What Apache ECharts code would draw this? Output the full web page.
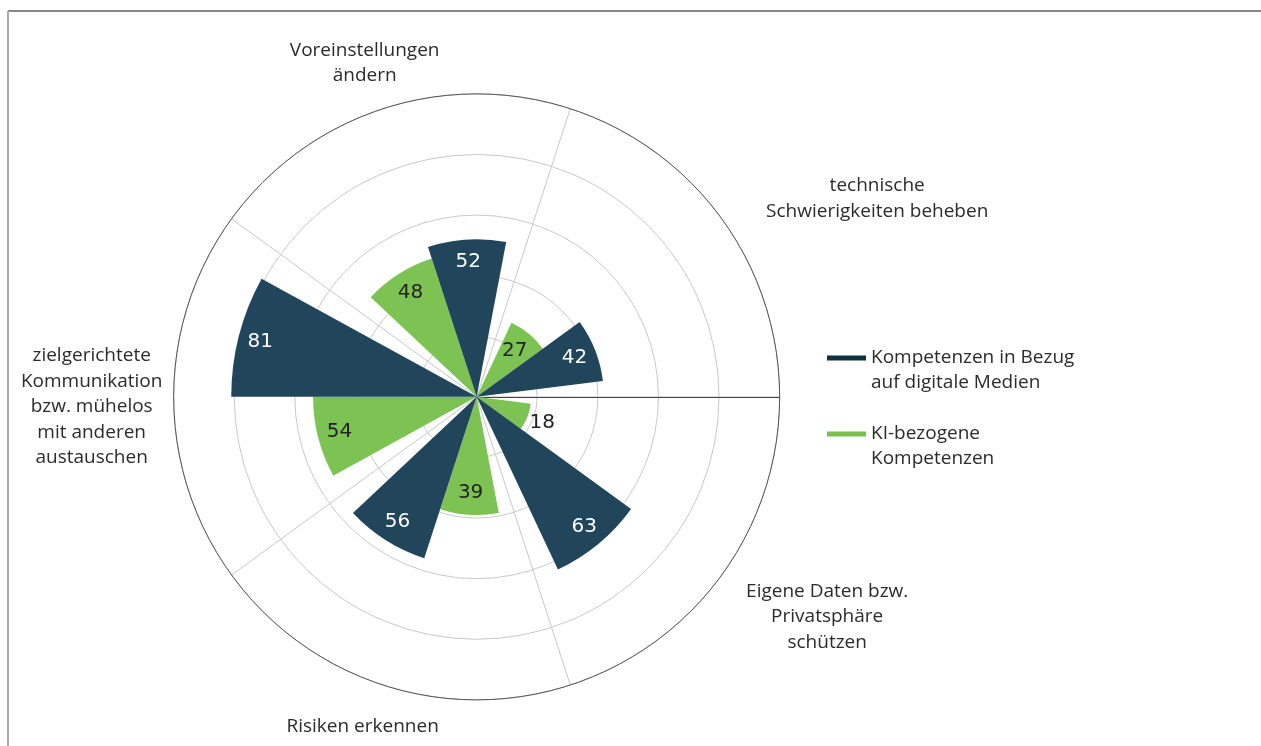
<!DOCTYPE html>
<html>
<head>
<meta charset="utf-8">
<script src="https://cdn.jsdelivr.net/npm/echarts@6/dist/echarts.min.js"></script>
<style>
  html, body { margin: 0; padding: 0; background: #fff; }
  #chart { width: 1261px; height: 746px; }
</style>
</head>
<body>
<div id="chart"></div>
<script>
// data
const categories = [
  'technische\nSchwierigkeiten beheben',
  'Voreinstellungen\nändern',
  'zielgerichtete\nKommunikation\nbzw. mühelos\nmit anderen\naustauschen',
  'Risiken erkennen',
  'Eigene Daten bzw.\nPrivatsphäre\nschützen'
]
const seriesNames = ['Kompetenzen in Bezug\nauf digitale Medien', 'KI-bezogene\nKompetenzen']
const digitalValues = [42, 52, 81, 56, 63]
const kiValues = [27, 48, 54, 39, 18]
const radiusMin = 0
const radiusMax = 100
const radiusStep = 20

const darkColor = '#21455a'
const greenColor = '#7dc353'
const textColor = '#2b2b2b'
const font = 'Open Sans'

// per category label box: token width + padding [top, right, bottom, left]
const labelBoxes = [
  { width: 240, padding: [0, 0, 8, 54] },
  { width: 160, padding: [0, 51, 42, 0] },
  { width: 150, padding: [20, 30, 0, 0] },
  { width: 160, padding: [51, 55, 0, 0] },
  { width: 180, padding: [17, 0, 0, 34] }
]

function richFor(w) {
  return {
    c: { width: w, align: 'center', fontFamily: font, fontSize: 19, lineHeight: 25.5, color: textColor }
  }
}

function barLabel(color) {
  return {
    show: true,
    position: 'insideEnd',
    distance: 22,
    rotate: 0,
    align: 'center',
    verticalAlign: 'middle',
    color: color,
    fontFamily: 'DejaVu Sans',
    fontSize: 20
  }
}

const chart = echarts.init(document.getElementById('chart'))

chart.setOption({
  animation: false,
  graphic: [
    { type: 'line', shape: { x1: 8, y1: 11, x2: 1261, y2: 11 }, style: { stroke: '#888', lineWidth: 2 } },
    { type: 'line', shape: { x1: 8, y1: 11, x2: 8, y2: 746 }, style: { stroke: '#aaa', lineWidth: 2 } }
  ],
  legend: {
    orient: 'vertical',
    left: 827,
    top: 320.5,
    padding: 0,
    itemGap: 1,
    itemWidth: 39,
    itemHeight: 5,
    icon: 'rect',
    // blank first line puts the icon level with the first text line
    formatter: name => '\n' + name,
    textStyle: {
      fontFamily: font,
      fontSize: 19,
      lineHeight: 25,
      color: textColor
    },
    data: [
      { name: seriesNames[0], itemStyle: { color: '#10303f' } },
      { name: seriesNames[1], itemStyle: { color: '#78c04f' } }
    ]
  },
  polar: {
    center: ['37.8%', '53.2%'],
    radius: 303
  },
  angleAxis: {
    type: 'category',
    data: categories.map((c, i) => ({
      value: c,
      textStyle: {
        padding: labelBoxes[i].padding,
        rich: richFor(labelBoxes[i].width)
      }
    })),
    startAngle: 0,
    clockwise: false,
    axisLine: { lineStyle: { color: '#555', width: 1 } },
    axisTick: { show: false },
    axisLabel: {
      margin: -23,
      fontFamily: font,
      fontSize: 19,
      color: textColor,
      formatter: v => v.split('\n').map(l => '{c|' + l + '}').join('\n')
    },
    splitLine: { show: true, lineStyle: { color: '#c8c8c8', width: 1 } }
  },
  radiusAxis: {
    min: radiusMin,
    max: radiusMax,
    interval: radiusStep,
    axisLine: { show: true, lineStyle: { color: '#444', width: 1 } },
    axisTick: { show: false },
    axisLabel: { show: false },
    splitLine: { show: true, lineStyle: { color: '#c8c8c8', width: 1 } }
  },
  series: [
    {
      name: seriesNames[1],
      type: 'bar',
      coordinateSystem: 'polar',
      // small value: label sits just outside the bar
      data: kiValues.map(v => v < 20 ? { value: v, label: { distance: -16 } } : v),
      barCategoryGap: '20%',
      barGap: '0%',
      itemStyle: { color: greenColor },
      label: barLabel('#222')
    },
    {
      name: seriesNames[0],
      type: 'bar',
      coordinateSystem: 'polar',
      data: digitalValues,
      barCategoryGap: '20%',
      barGap: '0%',
      itemStyle: { color: darkColor },
      label: barLabel('#fff')
    }
  ]
})
</script>
</body>
</html>
